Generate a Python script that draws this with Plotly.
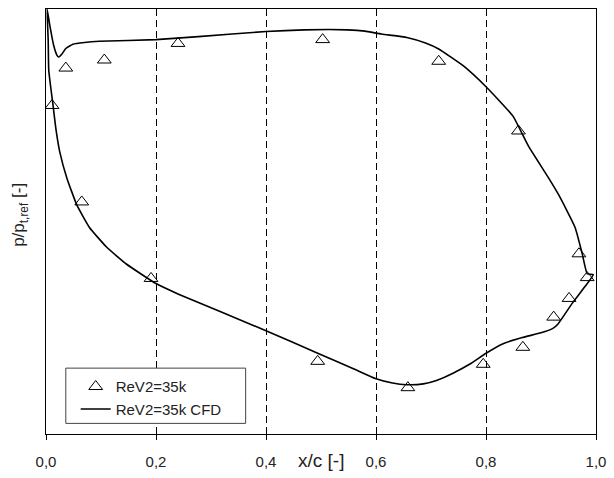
import plotly.graph_objects as go

# Experimental data (ReV2=35k)
exp_x = [0.011, 0.036, 0.065, 0.106, 0.191, 0.240, 0.494, 0.503, 0.658,
         0.714, 0.795, 0.859, 0.867, 0.923, 0.951, 0.969, 0.984]
exp_y = [0.773, 0.861, 0.546, 0.880, 0.366, 0.919, 0.171, 0.928, 0.109,
         0.877, 0.164, 0.713, 0.204, 0.275, 0.319, 0.424, 0.368]

# CFD suction side (leading edge -> trailing edge)
ss_x = [0.002, 0.007, 0.014, 0.020, 0.023, 0.029, 0.036, 0.049, 0.070, 0.097,
        0.200, 0.277, 0.400, 0.470, 0.548, 0.580, 0.610, 0.656, 0.690, 0.714,
        0.759, 0.800, 0.849, 0.877, 0.914, 0.932, 0.962, 0.975, 0.984, 0.995]
ss_y = [1.000, 0.961, 0.914, 0.891, 0.887, 0.894, 0.907, 0.917, 0.921, 0.924,
        0.928, 0.935, 0.947, 0.951, 0.951, 0.948, 0.941, 0.933, 0.920, 0.906,
        0.866, 0.817, 0.748, 0.678, 0.602, 0.563, 0.486, 0.424, 0.377, 0.375]

# CFD pressure side (leading edge -> trailing edge)
ps_x = [0.002, 0.004, 0.005, 0.013, 0.018, 0.025, 0.038, 0.056, 0.079, 0.110,
        0.146, 0.200, 0.241, 0.400, 0.494, 0.560, 0.600, 0.630, 0.656, 0.686,
        0.710, 0.740, 0.770, 0.800, 0.830, 0.866, 0.900, 0.921, 0.931, 0.957,
        0.980, 0.995]
ps_y = [1.000, 0.926, 0.856, 0.771, 0.718, 0.664, 0.602, 0.539, 0.486, 0.440,
        0.400, 0.354, 0.329, 0.243, 0.190, 0.153, 0.130, 0.120, 0.116, 0.118,
        0.126, 0.143, 0.164, 0.190, 0.212, 0.227, 0.238, 0.248, 0.259, 0.308,
        0.347, 0.375]

tick_vals = [0.0, 0.2, 0.4, 0.6, 0.8, 1.0]
tick_text = ["0,0", "0,2", "0,4", "0,6", "0,8", "1,0"]

cfd_x = ss_x[::-1] + ps_x[1:]
cfd_y = ss_y[::-1] + ps_y[1:]

FONT = "Liberation Sans, Arial, sans-serif"

fig = go.Figure()
fig.add_trace(go.Scatter(
    x=exp_x, y=exp_y, mode="markers", name="ReV2=35k",
    marker=dict(symbol="triangle-up-open", size=12, color="black",
                line=dict(width=1, color="black")),
))
fig.add_trace(go.Scatter(
    x=cfd_x, y=cfd_y, mode="lines", name="ReV2=35k CFD",
    line=dict(color="black", width=1.6, shape="spline", smoothing=0.4),
))
# invisible trace on overlay axis for inside ticks
fig.add_trace(go.Scatter(x=[0, 1], y=[0, 1], xaxis="x2", mode="markers",
                         marker=dict(opacity=0), showlegend=False,
                         hoverinfo="skip"))

fig.update_layout(
    width=614, height=478,
    margin=dict(l=46, r=12, t=8, b=38),
    paper_bgcolor="white", plot_bgcolor="white",
    font=dict(family=FONT, color="#222", size=15),
    showlegend=True,
    legend=dict(
        x=0.054, y=0.150, xanchor="left", yanchor="top",
        bgcolor="rgba(0,0,0,0)", borderwidth=0,
        font=dict(family=FONT, size=15, color="#222"),
        itemwidth=30, tracegroupgap=0,
    ),
    shapes=[
        dict(type="rect", xref="paper", yref="paper",
             x0=0.036, x1=0.363, y0=0.025, y1=0.155,
             fillcolor="white", line=dict(color="#444", width=1),
             layer="above"),
    ],
    xaxis=dict(
        range=[0, 1], tickvals=tick_vals, ticktext=tick_text,
        showline=True, linecolor="black", linewidth=1, mirror=True,
        ticks="outside", ticklen=5, tickcolor="black", tickwidth=1,
        ticklabelstandoff=9,
        showgrid=True, gridcolor="black", gridwidth=1, griddash="7px,4px",
        zeroline=False, tickfont=dict(size=15, color="#222"),
    ),
    xaxis2=dict(
        range=[0, 1], overlaying="x", anchor="y", side="bottom",
        tickvals=tick_vals, showticklabels=False,
        ticks="inside", ticklen=6, tickcolor="black", tickwidth=1,
        showgrid=False, zeroline=False, showline=False,
    ),
    yaxis=dict(
        range=[0, 1], showticklabels=False, ticks="",
        showline=True, linecolor="black", linewidth=1, mirror=True,
        showgrid=False, zeroline=False,
    ),
    annotations=[
        dict(text="x/c [-]", xref="paper", yref="paper", x=0.5, y=-0.0625,
             xanchor="center", yanchor="middle", showarrow=False,
             font=dict(family=FONT, size=19, color="#222")),
        dict(text="p/p<sub>t,ref</sub> [-]", xref="paper", yref="paper",
             x=-0.047, y=0.516, xanchor="center", yanchor="middle",
             textangle=-90, showarrow=False,
             font=dict(family=FONT, size=17, color="#222")),
    ],
)

fig.write_html("out.html")
